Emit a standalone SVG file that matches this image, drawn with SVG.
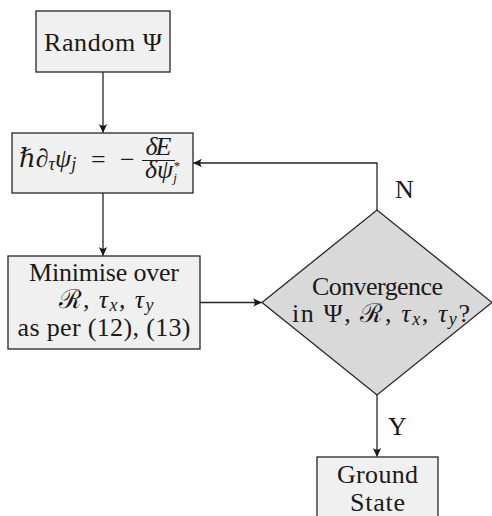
<svg xmlns="http://www.w3.org/2000/svg" width="492" height="516" viewBox="0 0 492 516">
<style>
.box{fill:#f0f0f0;stroke:#262626;stroke-width:1.3}
.dia{fill:#d9d9d9;stroke:#262626;stroke-width:1.3}
.c{fill:none;stroke:#262626;stroke-width:1.3}
text{font-family:"Liberation Serif","DejaVu Serif",serif;fill:#1a1a1a;font-size:26px}
.m{text-anchor:middle}
.i{font-style:italic}
.s{font-size:18px}
.u{font-style:normal}
</style>
<defs>
<marker id="ah" viewBox="-10 -5 11 10" refX="0" refY="0" markerWidth="11" markerHeight="10" markerUnits="userSpaceOnUse" orient="auto">
<path d="M0.5,0 L-8.5,-4.2 Q-5,0 -8.5,4.2 Z" fill="#1a1a1a"/>
</marker>
</defs>
<g id="connectors">
<line class="c" x1="103" y1="72" x2="103" y2="132.5" marker-end="url(#ah)"/>
<line class="c" x1="103" y1="193" x2="103" y2="255.5" marker-end="url(#ah)"/>
<line class="c" x1="200" y1="302.5" x2="261.5" y2="302.5" marker-end="url(#ah)"/>
<polyline class="c" points="377,210 377,163 193.5,163" marker-end="url(#ah)"/>
<line class="c" x1="377" y1="395" x2="377" y2="456.5" marker-end="url(#ah)"/>
<text x="395" y="198">N</text>
<text x="388" y="435">Y</text>
</g>
<g id="random">
<rect class="box" x="36" y="11" width="134" height="61"/>
<text class="m" x="103" y="51" textLength="118">Random Ψ</text>
</g>
<g id="update">
<rect class="box" x="12" y="133" width="181" height="60"/>
<text x="19" y="167" font-size="27">ℏ∂<tspan class="i s" dy="3">τ</tspan><tspan class="i" dy="-3">ψ</tspan><tspan class="i s" dy="3">j</tspan><tspan x="91" dy="-2">=</tspan><tspan x="120">−</tspan></text>
<text class="m i" x="158.5" y="155" font-size="20" textLength="26">δE</text>
<line x1="142" y1="160.5" x2="175" y2="160.5" stroke="#1a1a1a" stroke-width="1"/>
<text class="i" x="145" y="178" font-size="18">δψ<tspan font-size="13" dy="4">j</tspan><tspan class="u" font-size="13" dx="-3" dy="-12">*</tspan></text>
</g>
<g id="minimise">
<rect class="box" x="8" y="256" width="192" height="93"/>
<text class="m" x="104" y="281" textLength="150">Minimise over</text>
<text class="m" x="106" y="308" textLength="95">ℛ, <tspan class="i">τ</tspan><tspan class="i s" dy="3">x</tspan><tspan dy="-3">, </tspan><tspan class="i">τ</tspan><tspan class="i s" dy="3">y</tspan></text>
<text class="m" x="104" y="336" textLength="173">as per (12), (13)</text>
</g>
<g id="convergence">
<polygon class="dia" points="262,302.5 377,210 492,302.5 377,395"/>
<text class="m" x="377.5" y="295" textLength="131">Convergence</text>
<text class="m" x="381" y="322" textLength="178">in Ψ, ℛ, <tspan class="i">τ</tspan><tspan class="i s" dy="3">x</tspan><tspan dy="-3">, </tspan><tspan class="i">τ</tspan><tspan class="i s" dy="3">y</tspan><tspan dy="-3">?</tspan></text>
</g>
<g id="ground">
<rect class="box" x="317" y="457" width="121" height="70"/>
<text class="m" x="377.5" y="483" textLength="81">Ground</text>
<text class="m" x="377.5" y="511" textLength="55">State</text>
</g>
</svg>
